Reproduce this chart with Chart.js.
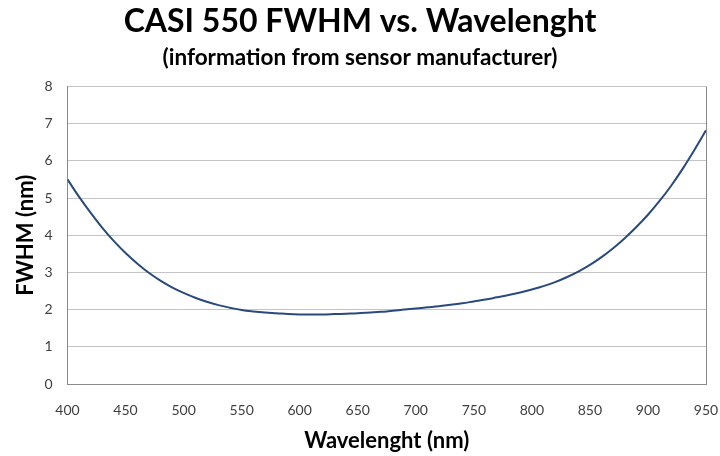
<!DOCTYPE html>
<html>
<head>
<meta charset="utf-8">
<script src="https://cdn.jsdelivr.net/npm/chart.js@4"></script>
<style>
html,body{margin:0;padding:0;background:#fff;}
#wrap{width:720px;height:456px;}
</style>
</head>
<body>
<div id="wrap"><canvas id="c" width="720" height="456"></canvas></div>
<script>
const wavelengths = [400,410,420,430,440,450,460,470,480,490,500,510,520,530,540,550,560,570,580,590,600,610,620,630,640,650,660,670,680,690,700,710,720,730,740,750,760,770,780,790,800,810,820,830,840,850,860,870,880,890,900,910,920,930,940,950];
const fwhm = [5.50,5.03,4.60,4.20,3.84,3.52,3.24,2.99,2.78,2.60,2.45,2.32,2.21,2.12,2.05,1.99,1.95,1.92,1.90,1.88,1.87,1.87,1.87,1.88,1.89,1.90,1.92,1.94,1.97,2.00,2.03,2.06,2.09,2.13,2.17,2.22,2.27,2.33,2.39,2.46,2.54,2.63,2.74,2.87,3.02,3.20,3.41,3.65,3.92,4.22,4.55,4.92,5.33,5.79,6.29,6.82];
const titleText = "CASI 550 FWHM vs. Wavelenght";
const subtitleText = "(information from sensor manufacturer)";
const xTitle = "Wavelenght (nm)";
const yTitle = "FWHM (nm)";

const points = wavelengths.map((w,i)=>({x:w,y:fwhm[i]}));
const FONT = "Lato";
const borderColor = "#8a8a8a";

const rightBorder = {
  id:'rightBorder',
  afterDraw(chart){
    const {ctx, chartArea:a} = chart;
    ctx.save();
    ctx.strokeStyle = borderColor;
    ctx.lineWidth = 1;
    ctx.beginPath();
    ctx.moveTo(Math.round(a.right)+0.5, a.top);
    ctx.lineTo(Math.round(a.right)+0.5, a.bottom);
    ctx.stroke();
    ctx.restore();
  }
};

new Chart(document.getElementById('c'), {
  type:'line',
  data:{datasets:[{data:points,borderColor:'#2a4a7c',borderWidth:2,pointRadius:0,tension:0.4,fill:false}]},
  options:{
    responsive:false,
    animation:false,
    layout:{padding:{left:0,right:0,top:0,bottom:0}},
    plugins:{
      legend:{display:false},
      tooltip:{enabled:false},
      title:{display:true,text:titleText,color:'#000',font:{family:FONT,size:32,weight:'bold'},padding:{top:2,bottom:2}},
      subtitle:{display:true,text:subtitleText,color:'#000',font:{family:FONT,size:22.5,weight:'bold'},padding:{top:2,bottom:15}}
    },
    scales:{
      x:{type:'linear',min:400,max:950,
        ticks:{stepSize:50,color:'#404040',font:{family:FONT,size:14},padding:18,maxRotation:0},
        grid:{display:false,drawTicks:false},
        border:{display:true,color:borderColor},
        title:{display:true,text:xTitle,color:'#000',font:{family:FONT,size:22,weight:'bold'},padding:{top:0,bottom:2}},
        afterFit(s){s.height=72; s.paddingRight=14; s.paddingLeft=0;}
      },
      y:{min:0,max:8,
        ticks:{stepSize:1,color:'#404040',font:{family:FONT,size:14},padding:15},
        grid:{color:'#c4c4c4',drawTicks:false},
        border:{display:true,color:borderColor},
        title:{display:true,text:yTitle,color:'#000',font:{family:FONT,size:22,weight:'bold'},padding:{top:13,bottom:0}},
        afterFit(s){s.width=67.5;}
      }
    }
  },
  plugins:[rightBorder]
});
</script>
</body>
</html>
